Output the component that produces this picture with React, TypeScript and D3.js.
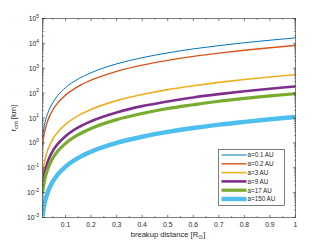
import React from "react";
import * as d3 from "d3";

const distances = [0.01, 0.015, 0.02, 0.03, 0.04, 0.05, 0.07, 0.1, 0.15, 0.2, 0.3, 0.4, 0.5, 0.6, 0.7, 0.8, 0.9, 1.0];

const seriesA01 = [1.66, 3.7, 6.6, 15, 26.5, 41, 81, 166, 373, 660, 1500, 2650, 4150, 6000, 8100, 10600, 13400, 16600];
const seriesA02 = [0.83, 1.87, 3.3, 7.5, 13.3, 21, 41, 83, 187, 330, 750, 1330, 2080, 3000, 4070, 5300, 6700, 8300];
const seriesA3 = [0.055, 0.124, 0.22, 0.5, 0.88, 1.4, 2.7, 5.5, 12.4, 22, 50, 88, 138, 198, 270, 352, 445, 550];
const seriesA9 = [0.0186, 0.042, 0.074, 0.17, 0.3, 0.47, 0.91, 1.86, 4.2, 7.4, 16.7, 30, 46, 67, 91, 119, 150, 186];
const seriesA17 = [0.0095, 0.0214, 0.038, 0.086, 0.152, 0.24, 0.47, 0.95, 2.14, 3.8, 8.6, 15.2, 24, 34, 47, 61, 77, 95];
const seriesA150 = [0.0011, 0.0025, 0.0044, 0.0099, 0.0176, 0.0275, 0.054, 0.11, 0.25, 0.44, 0.99, 1.76, 2.75, 3.96, 5.4, 7.0, 8.9, 11];

const legendLabels = ["a=0.1 AU", "a=0.2 AU", "a=3 AU", "a=9 AU", "a=17 AU", "a=150 AU"];
const xTickLabels = ["0.1", "0.2", "0.3", "0.4", "0.5", "0.6", "0.7", "0.8", "0.9", "1"];
const yExponents = [-3, -2, -1, 0, 1, 2, 3, 4, 5];

const colors = ["#0072BD", "#D95319", "#EDB120", "#7E2F8E", "#77AC30", "#4DBEEE"];
const widths = [1, 1.4, 1.6, 2.6, 3.2, 4.4];

const L = 42.5, R = 295.5, T = 18.5, B = 217.5;
const axisColor = "#262626";
const font = "'Liberation Sans', Arial, Helvetica, sans-serif";

export default function App() {
  const x = d3.scaleLinear().domain([0.01, 1]).range([L, R]);
  const y = d3.scaleLog().domain([1e-3, 1e5]).range([B, T]);
  const all = [seriesA01, seriesA02, seriesA3, seriesA9, seriesA17, seriesA150];
  const line = d3
    .line<number>()
    .x((_, i) => x(distances[i]))
    .y((v) => y(v))
    .curve(d3.curveMonotoneX);

  const xMajor = xTickLabels.map((s) => +s);
  const xMinor = d3.range(0.05, 1.0, 0.1);
  const yMinor: number[] = [];
  for (let e = -3; e < 5; e++) for (let k = 2; k <= 9; k++) yMinor.push(k * Math.pow(10, e));

  const maj = 2.6, mnr = 1.5;

  const legX = 218.5, legY = 149.5, legW = 66, legH = 56;
  const rowH = 8.8;

  return (
    <svg width={326} height={244} style={{ position: "absolute", left: 0, top: 0 }}>
      <rect width={326} height={244} fill="#fff" />
      <defs>
        <clipPath id="plot">
          <rect x={L} y={T} width={R - L} height={B - T} />
        </clipPath>
      </defs>
      <g clipPath="url(#plot)">
        {all.map((s, i) => (
          <path key={i} d={line(s) || ""} fill="none" stroke={colors[i]} strokeWidth={widths[i]} />
        ))}
      </g>
      {/* box */}
      <rect x={L} y={T} width={R - L} height={B - T} fill="none" stroke={axisColor} strokeWidth={0.6} />
      {/* x ticks */}
      {xMajor.map((v, i) => (
        <g key={"xm" + i}>
          <line x1={x(v)} x2={x(v)} y1={B} y2={B - maj} stroke={axisColor} strokeWidth={0.6} />
          <line x1={x(v)} x2={x(v)} y1={T} y2={T + maj} stroke={axisColor} strokeWidth={0.6} />
          <text x={x(v)} y={227} fontSize={6.8} fill={axisColor} textAnchor="middle" fontFamily={font}>
            {xTickLabels[i]}
          </text>
        </g>
      ))}
      {xMinor.map((v, i) => (
        <g key={"xn" + i}>
          <line x1={x(v)} x2={x(v)} y1={B} y2={B - mnr} stroke={axisColor} strokeWidth={0.5} />
          <line x1={x(v)} x2={x(v)} y1={T} y2={T + mnr} stroke={axisColor} strokeWidth={0.5} />
        </g>
      ))}
      {/* y ticks */}
      {yExponents.map((e) => {
        const yy = y(Math.pow(10, e));
        return (
          <g key={"ym" + e}>
            <line x1={L} x2={L + maj} y1={yy} y2={yy} stroke={axisColor} strokeWidth={0.6} />
            <line x1={R} x2={R - maj} y1={yy} y2={yy} stroke={axisColor} strokeWidth={0.6} />
            <text x={39} y={yy + 2.5} fontSize={6.8} fill={axisColor} textAnchor="end" fontFamily={font}>
              10
              <tspan dy={-3.2} fontSize={5}>{String(e).replace("-", "-")}</tspan>
            </text>
          </g>
        );
      })}
      {yMinor.map((v, i) => (
        <g key={"yn" + i}>
          <line x1={L} x2={L + mnr} y1={y(v)} y2={y(v)} stroke={axisColor} strokeWidth={0.5} />
          <line x1={R} x2={R - mnr} y1={y(v)} y2={y(v)} stroke={axisColor} strokeWidth={0.5} />
        </g>
      ))}
      {/* axis labels */}
      <text x={168} y={237} fontSize={7.6} fill={axisColor} textAnchor="middle" fontFamily={font}>
        breakup distance [R
        <tspan dy={2.2} fontSize={5.5}>⊙</tspan>
        <tspan dy={-2.2}>]</tspan>
      </text>
      <text
        transform={`translate(16,${(T + B) / 2}) rotate(-90)`}
        fontSize={7.6}
        fill={axisColor}
        textAnchor="middle"
        fontFamily={font}
      >
        r<tspan dy={2} fontSize={5.5}>crit</tspan>
        <tspan dy={-2}> [km]</tspan>
      </text>
      {/* legend */}
      <rect x={legX} y={legY} width={legW} height={legH} fill="#fff" stroke={axisColor} strokeWidth={0.6} />
      {legendLabels.map((lab, i) => {
        const yy = legY + 5.5 + i * rowH;
        return (
          <g key={"lg" + i}>
            <line x1={221.5} x2={246.5} y1={yy} y2={yy} stroke={colors[i]} strokeWidth={widths[i]} />
            <text x={247.5} y={yy + 2.3} fontSize={6.3} fill={axisColor} fontFamily={font}>
              {lab}
            </text>
          </g>
        );
      })}
    </svg>
  );
}
